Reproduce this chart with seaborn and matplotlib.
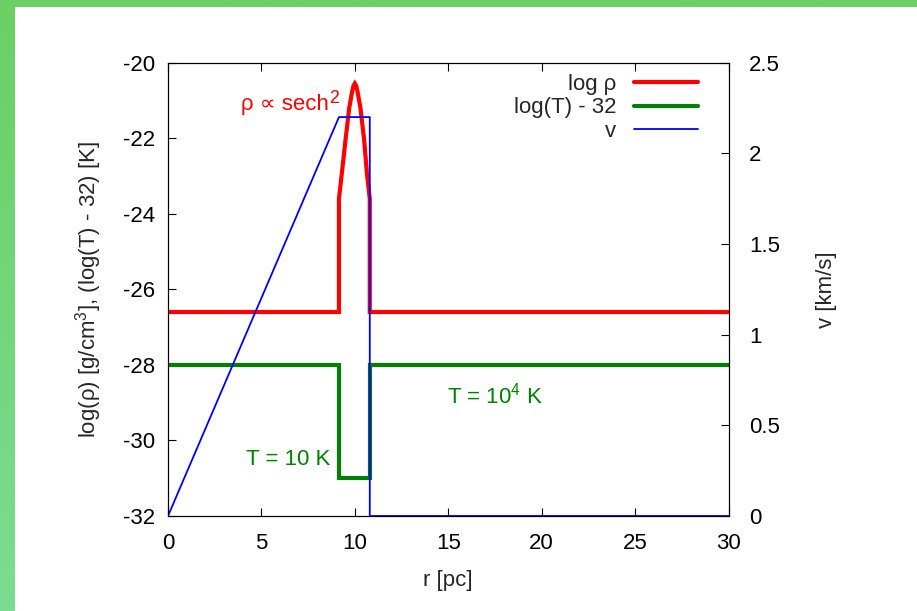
import numpy as np
import pandas as pd
import matplotlib
matplotlib.use("Agg")
import matplotlib.pyplot as plt
import seaborn as sns
from matplotlib.lines import Line2D

# ---- data ----
r_rho = [0, 9.15, 9.15, 9.3, 9.5, 9.7, 9.85, 9.92, 10.0, 10.08, 10.15, 10.3, 10.5, 10.65, 10.8, 10.8, 30]
log_rho = [-26.6, -26.6, -23.6, -22.95, -22.05, -21.2, -20.78, -20.62, -20.55, -20.62, -20.78, -21.2, -22.05, -22.95, -23.6, -26.6, -26.6]

r_T = [0, 9.15, 9.15, 10.8, 10.8, 30]
log_T_shift = [-28, -28, -31, -31, -28, -28]

r_v = [0, 9.15, 10.8, 10.8, 30]
v_kms = [0, 2.2, 2.2, 0, 0]

x_ticks = [0, 5, 10, 15, 20, 25, 30]
y_ticks = [-32, -30, -28, -26, -24, -22, -20]
y2_ticks = [0, 0.5, 1, 1.5, 2, 2.5]
y2_labels = ["0", "0.5", "1", "1.5", "2", "2.5"]

sns.set_style("white")
plt.rcParams['font.family'] = ['Liberation Sans', 'DejaVu Sans']
plt.rcParams['mathtext.fontset'] = 'custom'
plt.rcParams['mathtext.rm'] = 'Liberation Sans'
plt.rcParams['mathtext.it'] = 'Liberation Sans:italic'
plt.rcParams['mathtext.default'] = 'regular'

FS = 16

W, H = 917, 611
fig = plt.figure(figsize=(W / 100, H / 100), dpi=100)
fig.patch.set_facecolor('white')

# green gradient border (top strip and left strip)
bg = fig.add_axes([0, 0, 1, 1], zorder=-10)
top_c = np.array([106, 208, 100]) / 255
bot_c = np.array([125, 220, 145]) / 255
t = np.linspace(0, 1, 256)[:, None]
grad = top_c[None, None, :] * (1 - t[:, :, None]) + bot_c[None, None, :] * t[:, :, None]
grad = np.repeat(grad, 2, axis=1)
bg.imshow(grad, extent=[0, 1, 0, 1], aspect='auto', origin='upper')
bg.add_patch(plt.Rectangle((15 / W, 0), 1, 1 - 7 / H, facecolor='white', edgecolor='none'))
bg.set_xlim(0, 1)
bg.set_ylim(0, 1)
bg.axis('off')

ax = fig.add_axes([168 / W, 1 - 516 / H, (728.5 - 168) / W, (516 - 62.7) / H])
ax.set_facecolor('none')

df_rho = pd.DataFrame({'r': r_rho, 'y': log_rho})
df_T = pd.DataFrame({'r': r_T, 'y': log_T_shift})
df_v = pd.DataFrame({'r': r_v, 'v': v_kms})

sns.lineplot(data=df_rho, x='r', y='y', ax=ax, sort=False, estimator=None,
             color='#ff0000', linewidth=3.0, solid_joinstyle='miter')
sns.lineplot(data=df_T, x='r', y='y', ax=ax, sort=False, estimator=None,
             color='#008000', linewidth=3.0, solid_joinstyle='miter')

ax.set_xlim(0, 30)
ax.set_ylim(-32, -20)
ax.set_xticks(x_ticks)
ax.set_xticklabels([str(v) for v in x_ticks])
ax.set_yticks(y_ticks)
ax.set_yticklabels([str(v) for v in y_ticks])
ax.tick_params(axis='x', direction='in', length=6, width=0.8, top=True, bottom=True,
               labelsize=FS, pad=12, colors='black')
ax.tick_params(axis='y', direction='in', length=6, width=0.8, left=True, right=False,
               labelsize=FS, pad=9, colors='black')
ax.set_xlabel('r [pc]', fontsize=FS, labelpad=12)
ax.set_ylabel(r'log(ρ) [g/cm$^3$], (log(T) - 32) [K]', fontsize=FS, labelpad=14)
for s in ax.spines.values():
    s.set_color('black')
    s.set_linewidth(0.8)

ax2 = ax.twinx()
sns.lineplot(data=df_v, x='r', y='v', ax=ax2, sort=False, estimator=None,
             color='#0000ff', linewidth=1.3)
ax2.set_ylim(0, 2.5)
ax2.set_xlim(0, 30)
ax2.set_yticks(y2_ticks)
ax2.set_yticklabels(y2_labels)
ax2.tick_params(axis='y', direction='in', length=6, width=0.8, right=True, left=False,
                labelsize=FS, pad=15, colors='black')
ax2.set_ylabel('v [km/s]', fontsize=FS, labelpad=26)
for s in ax2.spines.values():
    s.set_color('black')
    s.set_linewidth(0.8)

# annotations
t1 = ax.text(8.6, -21.1, 'ρ ∝ sech', color='#ff0000', fontsize=FS, ha='right', va='center')
ax.annotate('2', xy=(1, 1), xycoords=t1, xytext=(0, 3), textcoords='offset points',
            color='#ff0000', fontsize=FS * 0.8, ha='left', va='top')
ax.text(8.67, -30.5, 'T = 10 K', color='#008000', fontsize=FS, ha='right', va='center')
ax.text(14.95, -28.8, 'T = 10$^4$ K', color='#008000', fontsize=FS, ha='left', va='center')

handles = [Line2D([], [], color='#ff0000', linewidth=3.0),
           Line2D([], [], color='#008000', linewidth=3.0),
           Line2D([], [], color='#0000ff', linewidth=1.3)]
labels = ['log ρ', 'log(T) - 32', 'v']
leg = ax2.legend(handles, labels, loc='upper right', bbox_to_anchor=(0.97, 1.005),
                 markerfirst=False, frameon=False, fontsize=FS, handlelength=2.9,
                 handletextpad=0.8, labelspacing=0.12, borderaxespad=0.2)
for txt in leg.get_texts():
    txt.set_ha('right')

fig.savefig('out.png', dpi=100)
